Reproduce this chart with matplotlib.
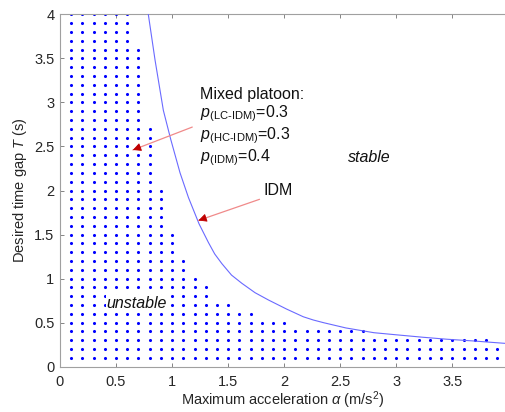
import matplotlib
matplotlib.use("Agg")
import matplotlib.pyplot as plt
import numpy as np

plt.rcParams['font.family'] = ['Liberation Sans', 'DejaVu Sans']
plt.rcParams['mathtext.fontset'] = 'custom'
plt.rcParams['mathtext.rm'] = 'Liberation Sans'
plt.rcParams['mathtext.it'] = 'Liberation Sans:italic'
plt.rcParams['mathtext.bf'] = 'Liberation Sans:bold'

# unstable grid: each column of a (m/s^2) has dots from T=0.1 up to col_top
col_a = [0.1, 0.2, 0.3, 0.4, 0.5, 0.6, 0.7, 0.8, 0.9, 1.0, 1.1, 1.2, 1.3,
         1.4, 1.5, 1.6, 1.7, 1.8, 1.9, 2.0, 2.1, 2.2, 2.3, 2.4, 2.5, 2.6,
         2.7, 2.8, 2.9, 3.0, 3.1, 3.2, 3.3, 3.4, 3.5, 3.6, 3.7, 3.8, 3.9]
col_top = [4.0, 4.0, 4.0, 4.0, 4.0, 4.0, 3.6, 2.7, 2.0, 1.5, 1.2, 1.0, 0.9,
           0.7, 0.7, 0.6, 0.6, 0.5, 0.5, 0.5, 0.4, 0.4, 0.4, 0.4, 0.4, 0.4,
           0.4, 0.3, 0.3, 0.3, 0.3, 0.3, 0.3, 0.3, 0.3, 0.3, 0.3, 0.3, 0.2]

# IDM stability boundary
idm_a = [0.782, 0.848, 0.922, 0.988, 1.071, 1.146, 1.241, 1.324, 1.38, 1.444,
         1.53, 1.622, 1.74, 1.86, 2.02, 2.17, 2.26, 2.35, 2.55, 2.80, 3.00,
         3.24, 3.45, 3.69, 3.97]
idm_T = [4.05, 3.48, 2.91, 2.58, 2.20, 1.92, 1.62, 1.41, 1.28, 1.17,
         1.04, 0.947, 0.84, 0.757, 0.655, 0.567, 0.53, 0.50, 0.44, 0.386, 0.362,
         0.334, 0.312, 0.292, 0.265]

xticks = [0, 0.5, 1, 1.5, 2, 2.5, 3, 3.5]
yticks = [0, 0.5, 1, 1.5, 2, 2.5, 3, 3.5, 4]

dot_x, dot_y = [], []
for a, top in zip(col_a, col_top):
    n = int(round(top / 0.1))
    for k in range(1, n + 1):
        dot_x.append(a)
        dot_y.append(k * 0.1)

fig = plt.figure(figsize=(5.05, 4.12), dpi=100)
ax = fig.add_axes([60 / 505, 45.3 / 412, 445 / 505, 352.4 / 412])

ax.scatter(dot_x, dot_y, s=5, c='#0000ff', marker='o', linewidths=0, zorder=2)
ax.plot(idm_a, idm_T, color='#6a6aff', lw=0.8, zorder=3)

ax.set_xlim(0, 3.97)
ax.set_ylim(0, 4)
ax.set_xticks(xticks)
ax.set_xticklabels([f'{v:g}' for v in xticks])
ax.set_yticks(yticks)
ax.set_yticklabels([f'{v:g}' for v in yticks])

for s in ['left', 'bottom', 'top']:
    ax.spines[s].set_color('#a0a0a0')
    ax.spines[s].set_linewidth(0.8)
ax.spines['right'].set_visible(False)
ax.tick_params(direction='in', length=3, width=0.6, color='#707070',
               labelsize=10.5, labelcolor='#262626', top=True)
ax.tick_params(axis='x', pad=6)
ax.tick_params(axis='y', pad=4)

ax.set_xlabel(r'Maximum acceleration $\it{\alpha}$ (m/s$^2$)', fontsize=10.5,
              color='#262626', labelpad=0)
ax.set_ylabel(r'Desired time gap $T$ (s)', fontsize=10.5, color='#262626',
              labelpad=4)

txt = ('Mixed platoon:\n'
       r'$p_{\rm (LC\text{-}IDM)}$=0.3' + '\n'
       r'$p_{\rm (HC\text{-}IDM)}$=0.3' + '\n'
       r'$p_{\rm (IDM)}$=0.4')
ax.text(1.25, 3.17, txt, fontsize=11.5, color='#111111', va='top', ha='left',
        linespacing=1.1, zorder=5)
ax.text(1.815, 2.0, 'IDM', fontsize=11.5, color='#111111', va='center', ha='left')
ax.text(2.57, 2.37, 'stable', fontsize=11.5, style='italic', color='#111111',
        va='center', ha='left')
ax.text(0.685, 0.72, 'unstable', fontsize=11.5, style='italic', color='#111111',
        va='center', ha='center', zorder=4,
        bbox=dict(facecolor='white', edgecolor='none', pad=0.5))


def red_arrow(tail, head):
    ax.annotate('', xy=head, xytext=tail,
                arrowprops=dict(arrowstyle='-', color='#f08a8a', lw=0.9,
                                shrinkA=0, shrinkB=0), zorder=6)
    hx, hy = head
    tx, ty = tail
    f = 0.12
    start = (hx + (tx - hx) * f, hy + (ty - hy) * f)
    ax.annotate('', xy=head, xytext=start,
                arrowprops=dict(arrowstyle='-|>,head_length=0.5,head_width=0.25',
                                color='#c00000', lw=0.6, shrinkA=0, shrinkB=0,
                                mutation_scale=10), zorder=7)


red_arrow((1.18, 2.72), (0.65, 2.46))
red_arrow((1.78, 1.90), (1.235, 1.66))

fig.savefig('out.png', dpi=100)
